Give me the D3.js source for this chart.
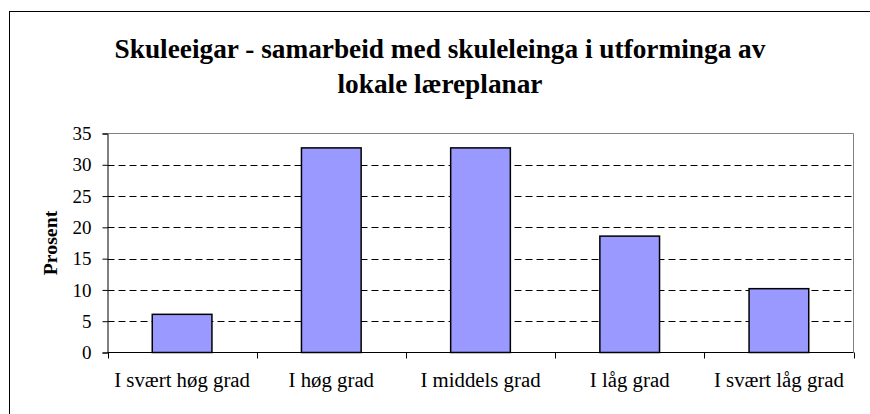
<!DOCTYPE html>
<html lang="no">
<head>
<meta charset="UTF-8">
<title>Skuleeigar</title>
<script src="https://d3js.org/d3.v7.min.js"></script>
<style>
  body { margin: 0; background: #fff; }
  text { font-family: "Liberation Serif", "Times New Roman", serif; fill: #000; }
</style>
</head>
<body>
<script>
// data
var categories = ["I svært høg grad", "I høg grad", "I middels grad", "I låg grad", "I svært låg grad"];
var values = [6.1, 32.7, 32.7, 18.6, 10.2];
var yTicks = [0, 5, 10, 15, 20, 25, 30, 35];
var titleLines = ["Skuleeigar - samarbeid med skuleleinga i utforminga av", "lokale læreplanar"];
var yTitle = "Prosent";

var width = 870, height = 414;
// plot area (note: "top" is reserved on window, so use own names)
var pLeft = 107.5, pRight = 853.5, pTop = 133.5, pBottom = 352.5;

var svg = d3.select("body").append("svg")
    .attr("width", width)
    .attr("height", height);

// outer chart frame (only top and left are inside the picture)
svg.append("rect")
    .attr("x", 9.5).attr("y", 11.5)
    .attr("width", 900).attr("height", 450)
    .attr("fill", "none").attr("stroke", "#000");

// title
svg.selectAll(".title")
    .data(titleLines)
    .enter().append("text")
    .attr("class", "title")
    .attr("x", 440)
    .attr("y", function (d, i) { return 58 + i * 35; })
    .attr("text-anchor", "middle")
    .attr("font-size", 27.3)
    .attr("font-weight", "bold")
    .text(function (d) { return d; });

var x = d3.scaleBand()
    .domain(categories)
    .range([pLeft, pRight])
    .paddingInner(0.6)
    .paddingOuter(0.3);

var y = d3.scaleLinear()
    .domain([0, 35])
    .range([pBottom, pTop]);

// dashed grid lines
svg.selectAll(".grid")
    .data(yTicks.filter(function (d) { return d > 0 && d < 35; }))
    .enter().append("line")
    .attr("x1", pLeft).attr("x2", pRight)
    .attr("y1", function (d) { return Math.round(y(d)) + 0.5; })
    .attr("y2", function (d) { return Math.round(y(d)) + 0.5; })
    .attr("stroke", "#000")
    .attr("stroke-dasharray", "7,4");

// plot area border top / right in grey
svg.append("path")
    .attr("d", "M" + pLeft + "," + pTop + "H" + pRight + "V" + pBottom)
    .attr("fill", "none")
    .attr("stroke", "#808080");

// bars
svg.selectAll(".bar")
    .data(values)
    .enter().append("rect")
    .attr("class", "bar")
    .attr("x", function (d, i) { return x(categories[i]); })
    .attr("width", x.bandwidth())
    .attr("y", function (d) { return y(d); })
    .attr("height", function (d) { return pBottom - y(d); })
    .attr("fill", "#9999FF")
    .attr("stroke", "#000")
    .attr("stroke-width", 1.5);

// y axis
var yAxis = svg.append("g")
    .attr("transform", "translate(" + pLeft + ",0)")
    .call(d3.axisLeft(y).tickValues(yTicks).tickSize(5).tickPadding(11));
yAxis.select(".domain").attr("stroke", "#000");
yAxis.selectAll("text")
    .attr("font-size", 19)
    .attr("font-family", "Liberation Serif, serif");

// x axis: ticks sit between the categories
var step = (pRight - pLeft) / categories.length;
var xAxis = svg.append("g")
    .attr("transform", "translate(0," + pBottom + ")");
xAxis.append("line")
    .attr("x1", pLeft).attr("x2", pRight)
    .attr("stroke", "#000");
xAxis.selectAll(".tick")
    .data(d3.range(categories.length + 1))
    .enter().append("line")
    .attr("x1", function (d) { return Math.round(pLeft + d * step) + 0.5; })
    .attr("x2", function (d) { return Math.round(pLeft + d * step) + 0.5; })
    .attr("y1", 0).attr("y2", 6)
    .attr("stroke", "#000");
xAxis.selectAll(".lab")
    .data(categories)
    .enter().append("text")
    .attr("x", function (d) { return x(d) + x.bandwidth() / 2; })
    .attr("y", 34.5)
    .attr("text-anchor", "middle")
    .attr("font-size", 20.8)
    .text(function (d) { return d; });

// y axis title
svg.append("text")
    .attr("transform", "translate(57," + ((pTop + pBottom) / 2) + ") rotate(-90)")
    .attr("text-anchor", "middle")
    .attr("font-size", 19.8)
    .attr("font-weight", "bold")
    .text(yTitle);
</script>
</body>
</html>
